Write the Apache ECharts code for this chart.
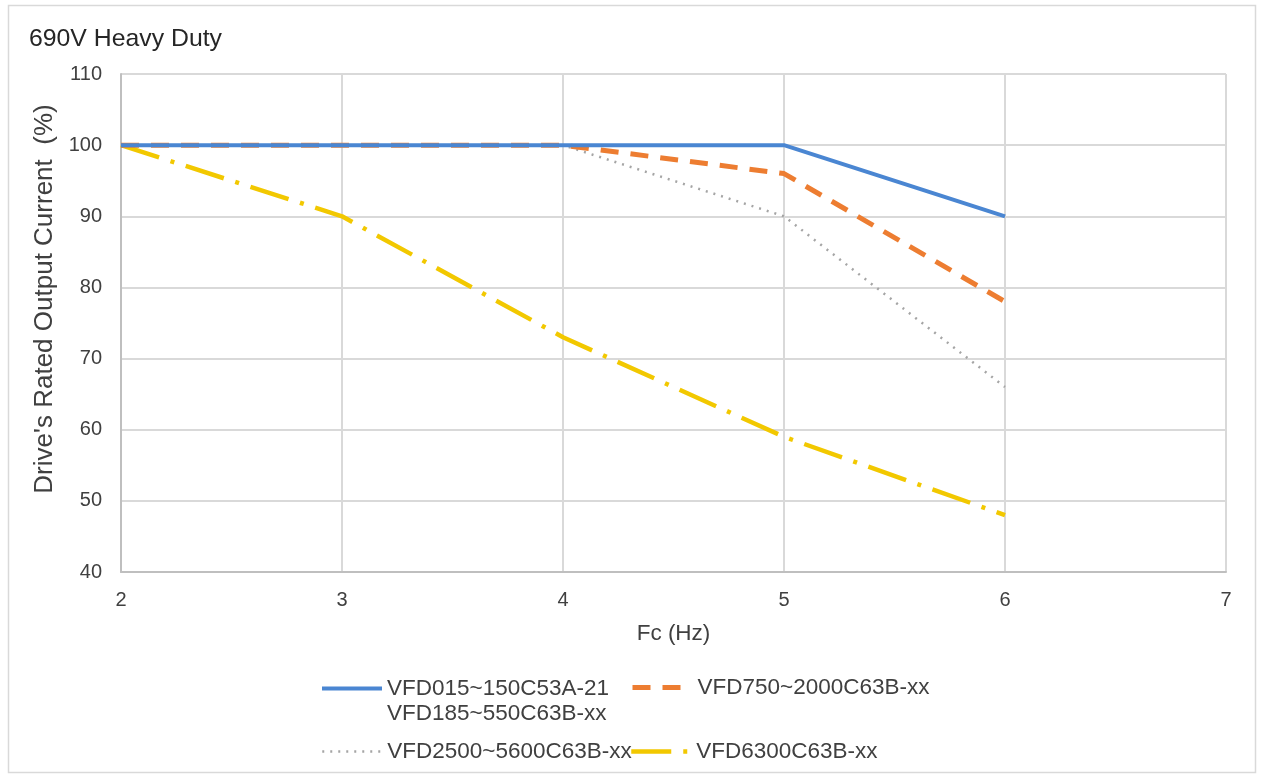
<!DOCTYPE html>
<html>
<head>
<meta charset="utf-8">
<script src="https://cdn.jsdelivr.net/npm/echarts@6/dist/echarts.min.js"></script>
<style>
html,body{margin:0;padding:0;background:#fff;}
#chart{width:1261px;height:778px;}
</style>
</head>
<body>
<div id="chart"></div>
<script>
const titleText = '690V Heavy Duty';
const xAxisName = 'Fc (Hz)';
const yAxisName = "Drive's Rated Output Current  (%)";
const fcValues = [2, 3, 4, 5, 6];
const seriesNames = [
  'VFD015~150C53A-21\nVFD185~550C63B-xx',
  'VFD750~2000C63B-xx',
  'VFD2500~5600C63B-xx',
  'VFD6300C63B-xx'
];
const blueValues = [100, 100, 100, 100, 90];
const orangeValues = [100, 100, 100, 96, 78];
const grayValues = [100, 100, 100, 90, 66];
const yellowValues = [100, 90, 73, 59, 48];

const pairs = vals => fcValues.map((x, i) => [x, vals[i]]);
const font = 'Liberation Sans, Arial, sans-serif';
const colors = ['#4a86d2', '#ed7d31', '#a5a5a5', '#f2c800'];
const widths = [4, 5, 2.5, 4.5];
const dashes = ['solid', [18, 12], [2, 6], [40, 12, 4, 12]];

const chart = echarts.init(document.getElementById('chart'));
const legendItem = (i, left, top, extra) => Object.assign({
  data: [seriesNames[i]], left: left, top: top,
  orient: 'horizontal', itemWidth: 60, itemHeight: 14,
  textStyle: {fontFamily: font, fontSize: 22.5, color: '#404040', lineHeight: 25},
  itemStyle: {color: 'rgba(0,0,0,0)', borderWidth: 0, opacity: 0},
  lineStyle: {width: widths[i], color: colors[i], type: dashes[i]},
  selectedMode: false
}, extra || {});

chart.setOption({
  animation: false,
  title: {text: titleText, left: 24, top: 22,
    textStyle: {fontFamily: font, fontSize: 24.8, fontWeight: 'normal', color: '#262626'}},
  graphic: [{type: 'rect', shape: {x: 8.5, y: 5.5, width: 1247, height: 767},
    style: {fill: 'none', stroke: '#d9d9d9', lineWidth: 1.5}, silent: true, z: -1}],
  grid: {left: 121, right: 35, top: 74, bottom: 206},
  xAxis: {
    type: 'value', min: 2, max: 7, interval: 1,
    name: xAxisName, nameLocation: 'middle', nameGap: 50,
    nameTextStyle: {fontFamily: font, fontSize: 22.5, color: '#404040'},
    axisLine: {show: true, lineStyle: {color: '#bfbfbf', width: 2}},
    axisTick: {show: false},
    axisLabel: {fontFamily: font, fontSize: 20, color: '#404040', margin: 18},
    splitLine: {show: true, lineStyle: {color: '#d9d9d9', width: 2}}
  },
  yAxis: {
    type: 'value', min: 40, max: 110, interval: 10,
    name: yAxisName, nameLocation: 'middle', nameGap: 57,
    nameTextStyle: {fontFamily: font, fontSize: 26, color: '#404040', padding: [0, 0, 0, 48]},
    axisLine: {show: true, lineStyle: {color: '#bfbfbf', width: 2}},
    axisTick: {show: false},
    axisLabel: {fontFamily: font, fontSize: 20, color: '#404040', margin: 19},
    splitLine: {show: true, lineStyle: {color: '#d9d9d9', width: 2}}
  },
  legend: [
    legendItem(0, 315, 646, {formatter: name => ' \n' + name}),
    legendItem(1, 625, 670),
    legendItem(2, 316, 734),
    legendItem(3, 624, 734)
  ],
  series: [0, 1, 2, 3].map(i => ({
    name: seriesNames[i], type: 'line',
    data: pairs([blueValues, orangeValues, grayValues, yellowValues][i]),
    symbol: 'none',
    lineStyle: {color: colors[i], width: widths[i], type: dashes[i]},
    itemStyle: {color: colors[i]}, z: 4 - i
  }))
});
</script>
</body>
</html>
